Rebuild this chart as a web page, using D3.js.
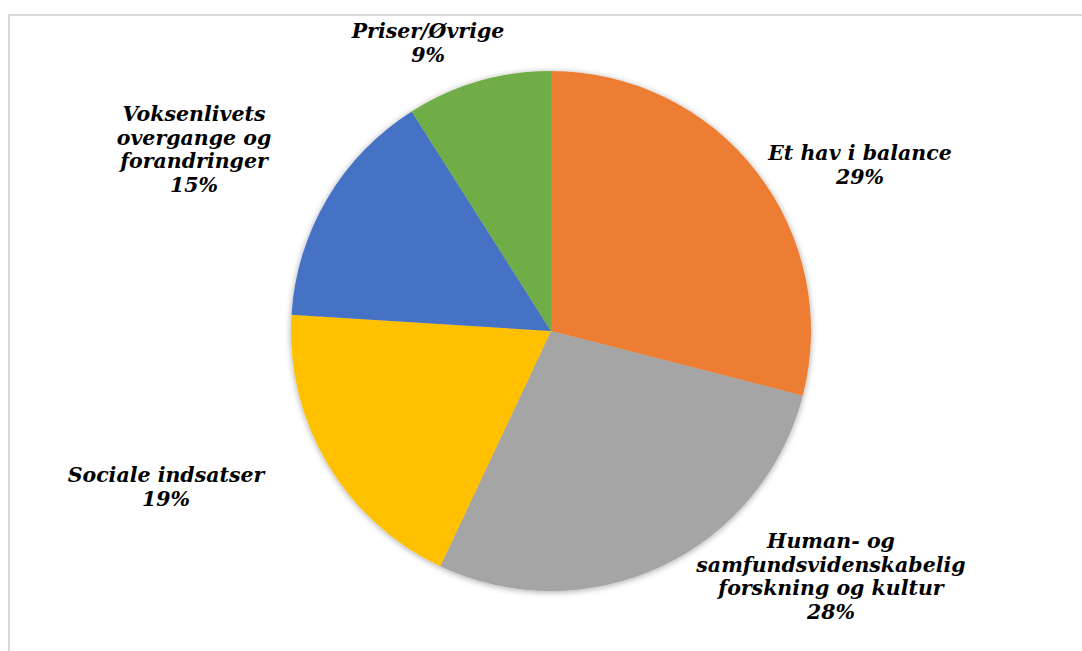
<!DOCTYPE html>
<html>
<head>
<meta charset="utf-8">
<script src="https://cdn.jsdelivr.net/npm/d3@7"></script>
<style>
  body { margin: 0; background: #fff; }
  text { font-family: "DejaVu Serif", Georgia, serif; font-weight: bold; font-style: italic; fill: #000; }
</style>
</head>
<body>
<div id="chart"></div>
<script>
// data, clockwise from 12 o'clock
const categories = [
  "Et hav i balance",
  "Human- og samfundsvidenskabelig forskning og kultur",
  "Sociale indsatser",
  "Voksenlivets overgange og forandringer",
  "Priser/Øvrige"
];
const shares = [29, 28, 19, 15, 9];
// how each label is broken over lines
const labelLines = [
  ["Et hav i balance"],
  ["Human- og", "samfundsvidenskabelig", "forskning og kultur"],
  ["Sociale indsatser"],
  ["Voksenlivets", "overgange og", "forandringer"],
  ["Priser/Øvrige"]
];
const colors = ["#ED7D31", "#A5A5A5", "#FFC000", "#4472C4", "#70AD47"];

const width = 1082;
const height = 651;
const cx = 551, cy = 331, radius = 260;
const lineHeight = 23.5;

// label anchor (centre x, first baseline y), relative to pie centre
const labelPos = [
  [309, -171],
  [280, 217],
  [-385, 151],
  [-357, -210],
  [-123, -293]
];

const svg = d3.select("#chart")
  .append("svg")
  .attr("width", width)
  .attr("height", height);

// soft shadow under the pie
const defs = svg.append("defs");
defs.append("filter")
  .attr("id", "shadow")
  .attr("x", "-20%").attr("y", "-20%")
  .attr("width", "140%").attr("height", "140%")
  .append("feDropShadow")
  .attr("dx", 0).attr("dy", 1)
  .attr("stdDeviation", 3)
  .attr("flood-color", "#000")
  .attr("flood-opacity", 0.35);

// chart frame
svg.append("rect")
  .attr("x", 9)
  .attr("y", 15)
  .attr("width", 1200)
  .attr("height", 800)
  .attr("fill", "none")
  .attr("stroke", "#d9d9d9")
  .attr("stroke-width", 2);

const pie = d3.pie().sort(null).value((d) => d);
const arcs = pie(shares);
const arc = d3.arc().innerRadius(0).outerRadius(radius);

const g = svg.append("g").attr("transform", `translate(${cx},${cy})`);

g.append("g")
  .attr("filter", "url(#shadow)")
  .selectAll("path")
  .data(arcs)
  .enter()
  .append("path")
  .attr("d", arc)
  .attr("fill", (d, i) => colors[i]);

// ------------
// LABELS
// ------------
const labels = g.selectAll(".label")
  .data(arcs)
  .enter()
  .append("text")
  .attr("class", "label")
  .attr("text-anchor", "middle")
  .style("font-size", "20.5px");

labels.each(function (d, i) {
  const t = d3.select(this);
  const lines = labelLines[i].concat([d.data + "%"]);
  lines.forEach((line, j) => {
    t.append("tspan")
      .attr("x", labelPos[i][0])
      .attr("y", labelPos[i][1] + j * lineHeight)
      .text(line);
  });
});
</script>
</body>
</html>
